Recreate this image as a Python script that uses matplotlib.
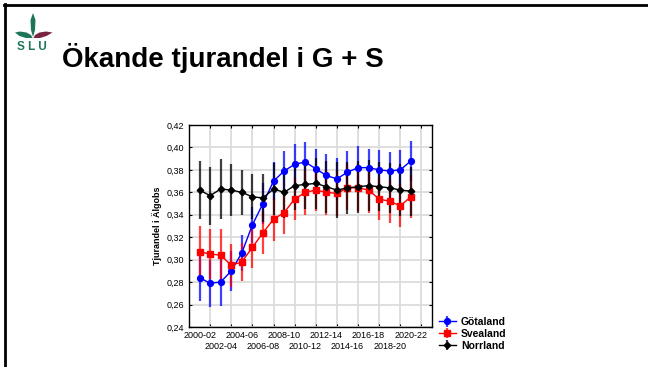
import matplotlib.pyplot as plt
from matplotlib.lines import Line2D
from matplotlib.patches import Polygon
from matplotlib.ticker import FuncFormatter

plt.rcParams["font.family"] = ["Liberation Sans", "DejaVu Sans"]

W, H = 648, 367

periods = [
    "2000-02", "2001-03", "2002-04", "2003-05", "2004-06", "2005-07", "2006-08",
    "2007-09", "2008-10", "2009-11", "2010-12", "2011-13", "2012-14", "2013-15",
    "2014-16", "2015-17", "2016-18", "2017-19", "2018-20", "2019-21", "2020-22",
]

gotaland = [0.284, 0.279, 0.280, 0.290, 0.306, 0.331, 0.350, 0.370, 0.379, 0.385, 0.387,
            0.381, 0.375, 0.372, 0.378, 0.382, 0.382, 0.380, 0.379, 0.380, 0.388]
gotaland_err = [0.021, 0.021, 0.021, 0.018, 0.016, 0.016, 0.018, 0.017, 0.018, 0.018, 0.018,
                0.018, 0.019, 0.019, 0.019, 0.019, 0.017, 0.018, 0.017, 0.018, 0.018]

svealand = [0.307, 0.305, 0.304, 0.295, 0.298, 0.311, 0.324, 0.336, 0.342, 0.354, 0.360,
            0.362, 0.360, 0.359, 0.364, 0.364, 0.362, 0.354, 0.352, 0.348, 0.356]
svealand_err = [0.023, 0.022, 0.023, 0.019, 0.017, 0.018, 0.019, 0.019, 0.019, 0.019, 0.020,
                0.019, 0.020, 0.020, 0.020, 0.021, 0.020, 0.019, 0.019, 0.019, 0.019]

norrland = [0.362, 0.357, 0.363, 0.362, 0.360, 0.356, 0.355, 0.363, 0.360, 0.366, 0.367,
            0.368, 0.365, 0.362, 0.364, 0.365, 0.366, 0.365, 0.364, 0.362, 0.361]
norrland_err = [0.026, 0.026, 0.027, 0.023, 0.020, 0.020, 0.021, 0.023, 0.023, 0.022, 0.022,
                0.023, 0.023, 0.025, 0.023, 0.023, 0.023, 0.022, 0.022, 0.023, 0.022]

yticks = [0.24, 0.26, 0.28, 0.30, 0.32, 0.34, 0.36, 0.38, 0.40, 0.42]


def px(x0, y0, x1, y1):
    # pixel box (top-left origin) -> figure rect
    return [x0 / W, 1 - y1 / H, (x1 - x0) / W, (y1 - y0) / H]


fig = plt.figure(figsize=(W / 100, H / 100), dpi=100)
fig.patch.set_facecolor("white")

# slide border (top and left)
fig.add_artist(Line2D([4 / W, 1], [1 - 5 / H, 1 - 5 / H], color="black", lw=2.0))
fig.add_artist(Line2D([5 / W, 5 / W], [0, 1 - 4 / H], color="black", lw=2.0))

# SLU logo
lax = fig.add_axes(px(12, 10, 56, 54))
lax.set_xlim(12, 56)
lax.set_ylim(54, 10)
lax.axis("off")
green = "#1d7658"
maroon = "#7a2444"
lax.add_patch(Polygon([(33, 13), (35.5, 20), (35, 30), (33, 37), (31, 30), (30.5, 20)],
                      closed=True, color=green, lw=0))
lax.add_patch(Polygon([(32.5, 38), (26, 38), (19.5, 36), (15, 32.5), (20, 31.5),
                       (26.5, 32.5), (31, 35)], closed=True, color=green, lw=0))
lax.add_patch(Polygon([(33.5, 38), (40, 38), (46.5, 36), (52.5, 32.5), (46, 31.5),
                       (39.5, 32.5), (35, 35)], closed=True, color=maroon, lw=0))
lax.text(31.5, 47, "S L U", color=green, fontsize=8.5, fontweight="bold",
         ha="center", va="center")

fig.text(62 / W, 1 - 67 / H, "Ökande tjurandel i G + S", fontsize=20,
         fontweight="bold", ha="left", va="baseline")

ax = fig.add_axes(px(189, 125, 432, 327))
x = list(range(len(periods)))

series = [
    ("Götaland", gotaland, gotaland_err, "#0000ff", "o", 4.2),
    ("Svealand", svealand, svealand_err, "#ff0000", "s", 3.8),
    ("Norrland", norrland, norrland_err, "#000000", "D", 3.3),
]
handles = []
for name, vals, err, col, mk, ms in series:
    h = ax.errorbar(x, vals, yerr=err, color=col, ecolor=col, elinewidth=1.6,
                    lw=1.0, marker=mk, markersize=ms, capsize=0,
                    label=name, zorder=3)
    for lc in h[2]:
        lc.set_alpha(0.75)
    handles.append(h)

ax.set_xlim(-1, 22)
ax.set_ylim(0.24, 0.42)
ax.set_yticks(yticks)
ax.yaxis.set_major_formatter(FuncFormatter(lambda v, p: f"{v:.2f}".replace(".", ",")))

ax.set_xticks(range(22), minor=True)
major = list(range(0, 21, 2))
ax.set_xticks(major)
ax.set_xticklabels([periods[i] for i in major], fontsize=6.5)
ax.tick_params(axis="y", labelsize=6.5)
ax.tick_params(which="both", direction="in", length=2.5, top=True, right=True, width=0.8)
ax.tick_params(axis="x", which="major", length=0, pad=3)
# staggered second row of period labels
for k, t in enumerate(ax.xaxis.get_major_ticks()):
    if k % 2 == 1:
        t.set_pad(11)

ax.grid(axis="y", which="major", color="#dcdcdc", lw=1.3)
ax.grid(axis="x", which="minor", color="#dcdcdc", lw=1.3)
ax.set_axisbelow(True)
for s in ax.spines.values():
    s.set_linewidth(1.0)

ax.set_ylabel("Tjurandel i Älgobs", fontsize=6.5, fontweight="bold", labelpad=3)

fig.legend(handles=handles, loc="upper left", bbox_to_anchor=(439 / W, 1 - 317 / H),
           frameon=False, prop={"size": 7.5, "weight": "bold"}, handlelength=1.6,
           handletextpad=0.5, labelspacing=0.18, borderpad=0, borderaxespad=0)

fig.savefig("out.png", dpi=100)
